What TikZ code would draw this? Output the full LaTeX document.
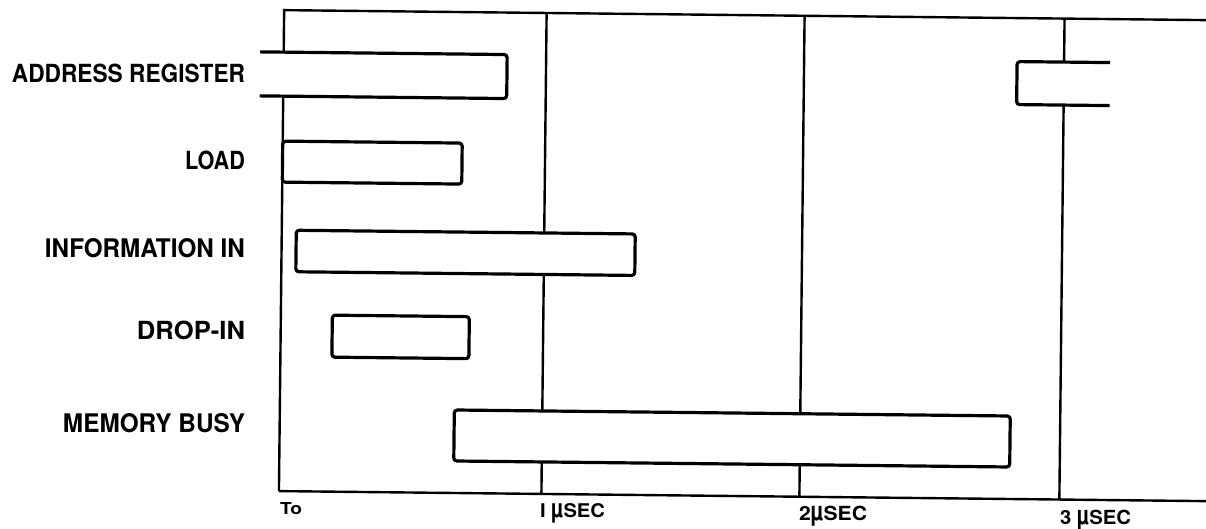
\documentclass[tikz,border=0pt]{standalone}
\usepackage{fontspec}
\setmainfont{TeX Gyre Heros}
\usepackage{graphicx}

% full-height micro sign for the time labels
\newcommand\mufull{\scalebox{1}[1.35]{µ}}
% label text squeezed to a given width and cap height
\newcommand\fitlbl[3]{\resizebox{#1}{#2}{\bfseries #3}}

\tikzset{
  frame/.style={line width=1.2pt},
  barline/.style={line width=1.6pt, rounded corners=1.5pt, line join=round},
  bar/.style={barline, fill=white},
  lbl/.style={inner sep=0pt, outer sep=0pt},
}

\begin{document}
\begin{tikzpicture}[x=0.5pt,y=-0.5pt]
\useasboundingbox (0,0) rectangle (1206,529);

\begin{scope}[rotate around={-0.62:(640,255)}]
  % time axes and grid
  \draw[frame] (281.5,495) -- (281.5,14) -- (1220,14);
  \draw[frame] (281.5,495) -- (1220,495);
  \draw[frame] (544,14) -- (544,495);
  \draw[frame] (802,14) -- (802,495);
  \draw[frame] (1062,14) -- (1062,495);

  % address register: held from before T0, open on the left
  \fill[white] (258,56) rectangle (505,100);
  \draw[barline] (258,56) -- (505,56) -- (505,100) -- (258,100);
  % address register: next cycle, open on the right
  \fill[white] (1015,57.5) rectangle (1110,100.5);
  \draw[barline] (1108,57.5) -- (1015,57.5) -- (1015,100.5) -- (1108,100.5);

  % load
  \draw[bar] (281.5,145) rectangle (461,186);
  % information in
  \draw[bar] (296,234) rectangle (635,275.5);
  % drop-in
  \draw[bar] (333,318.5) rectangle (470,360.5);
  % memory busy
  \draw[bar] (456,412) rectangle (1012,463);
\end{scope}

% signal names
\node[lbl, anchor=base east] (ar)  at (245,83)  {\fitlbl{116.5pt}{9.25pt}{ADDRESS REGISTER}};
\node[lbl, anchor=base east] (ld)  at (245,170) {\fitlbl{30pt}{9.25pt}{LOAD}};
\node[lbl, anchor=base east] (ii)  at (245,258) {\fitlbl{100pt}{9.5pt}{INFORMATION IN}};
\node[lbl, anchor=base east] (dr)  at (245,340) {\fitlbl{54pt}{9.25pt}{DROP-IN}};
\node[lbl, anchor=base east] (mb)  at (245,432) {\fitlbl{91pt}{9.5pt}{MEMORY BUSY}};

% time marks
\node[lbl, anchor=base west] (t0) at (280,515)   {\fitlbl{11pt}{6pt}{To}};
\node[lbl, anchor=base west] (t1) at (540,517.5) {\fitlbl{32.5pt}{7pt}{I \mufull SEC}};
\node[lbl, anchor=base west] (t2) at (799,521)   {\fitlbl{34pt}{7.2pt}{2\mufull SEC}};
\node[lbl, anchor=base west] (t3) at (1060,524.5) {\fitlbl{35.5pt}{7.2pt}{3 \mufull SEC}};
\end{tikzpicture}
\end{document}
